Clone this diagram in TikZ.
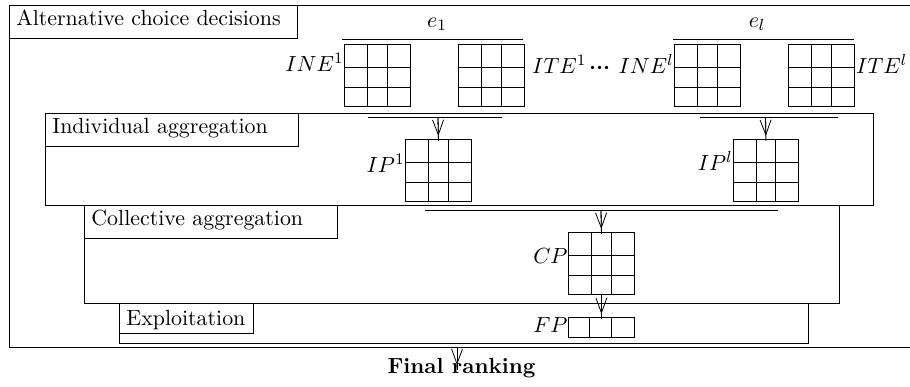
\documentclass[tikz,border=0pt]{standalone}
\usetikzlibrary{arrows.meta,calc}
\tikzset{
  every node/.style={font=\fontsize{10.95}{13.6}\selectfont},
  gridlines/.style 2 args={path picture={
    \foreach \f in {#1}
      \draw ($(path picture bounding box.north west)!\f!(path picture bounding box.north east)$) --
            ($(path picture bounding box.south west)!\f!(path picture bounding box.south east)$);
    \foreach \f in {#2}
      \draw ($(path picture bounding box.north west)!\f!(path picture bounding box.south west)$) --
            ($(path picture bounding box.north east)!\f!(path picture bounding box.south east)$);
  }},
  mat/.style={draw, inner sep=0pt, minimum width=33pt, minimum height=31pt, anchor=north west,
    gridlines={0.35,0.65}{0.37,0.69}},
  fpmat/.style={draw, inner sep=0pt, minimum width=33pt, minimum height=10pt, anchor=north west,
    gridlines={0.32,0.65}{}},
  stagelabel/.style={draw, anchor=north west, inner xsep=3.5pt, inner ysep=0pt, align=left,
    text height=10pt, text depth=6.5pt},
  matlabel/.style={inner sep=0pt},
  stagebox/.style={draw},
  bar/.style={draw},
  flow/.style={shorten >=-1pt,
    postaction={draw, shorten >=1.5pt, -{Straight Barb[length=7.5pt,width=5.5pt]}}}
}
\newcommand{\bolddots}{\mbox{\boldmath$\mathord{\cdot}\mathord{\cdot}\mathord{\cdot}$}}
\begin{document}
\begin{tikzpicture}[x=0.5pt,y=-0.5pt]
\useasboundingbox (0,0) rectangle (910,386);
\clip (0,0) rectangle (910,386);

% stage boxes
\draw[stagebox] (9,5) rectangle (925,347);
\draw[stagebox] (45,113) rectangle (873,205);
\draw[stagebox] (84,205) rectangle (839,303);
\draw[stagebox] (119,303) rectangle (808,343);

% stage labels
\node[stagelabel, text width=137pt] (altlab) at (9,5) {Alternative choice decisions};
\node[stagelabel, text width=119.5pt] (indlab) at (45,113) {Individual aggregation};
\node[stagelabel, text width=119.5pt] (collab) at (84,205) {Collective aggregation};
\node[stagelabel, text width=60pt, text height=11pt, text depth=4pt] (explab) at (119,303) {Exploitation};

% expert groups
\node[anchor=base] (e1) at (437,27) {$e_1$};
\node[anchor=base] (el) at (757,27) {$e_l$};
\draw[bar] (342,39) -- (523,39);
\draw[bar] (673,39) -- (854,39);

% input matrices
\node[mat] (ine1) at (344,44) {};
\node[mat] (ite1) at (458,44) {};
\node[mat] (inel) at (674,44) {};
\node[mat] (itel) at (788,44) {};
\node[matlabel, anchor=base east] (ine1lab) at ([yshift=2pt]ine1.west) {$INE^1$};
\node[matlabel, anchor=base west, xshift=3.5pt] (ite1lab) at ([yshift=1pt]ite1.east) {$ITE^1$};
\node[matlabel, anchor=base west, xshift=1pt] (dotsep) at (ite1lab.base east) {\bolddots};
\node[matlabel, anchor=base east] (inellab) at ([yshift=1pt]inel.west) {$INE^l$};
\node[matlabel, anchor=base west, xshift=0.5pt] (itellab) at ([yshift=1pt]itel.east) {$ITE^l$};

% individual aggregation
\draw[bar] (368,117) -- (502,117);
\draw[bar] (700,117) -- (838,117);
\coordinate (ipbar1) at (438,117);
\coordinate (ipbarl) at (765.5,117);
\node[mat] (ip1) at (405,139) {};
\node[mat, minimum width=32.5pt] (ipl) at (733,139) {};
\node[matlabel, anchor=base east] (ip1lab) at ([yshift=-1pt]ip1.west) {$IP^1$};
\node[matlabel, anchor=base east] (ipllab) at (ipl.west) {$IP^l$};
\draw[flow] (ipbar1) -- (ip1.north);
\draw[flow] (ipbarl) -- (ipl.north);

% collective aggregation
\draw[bar] (425,210) -- (778,210);
\coordinate (cpbar) at (601,210);
\node[mat] (cp) at (568,232) {};
\node[matlabel, anchor=base east] (cplab) at (cp.west) {$CP$};
\draw[flow] (cpbar) -- (cp.north);

% exploitation
\node[fpmat] (fp) at (568,317) {};
\node[matlabel, anchor=base east] (fplab) at ([yshift=-2.5pt]fp.west) {$FP$};
\draw[flow] (cp.south) -- (fp.north);

% final ranking
\coordinate (outbot) at (457,347);
\coordinate (finaltip) at (457,368);
\node[anchor=base, font=\fontsize{10.95}{13.6}\selectfont\bfseries] (final) at (461.5,373) {Final ranking};
\draw[flow] (outbot) -- (finaltip);
\end{tikzpicture}
\end{document}
